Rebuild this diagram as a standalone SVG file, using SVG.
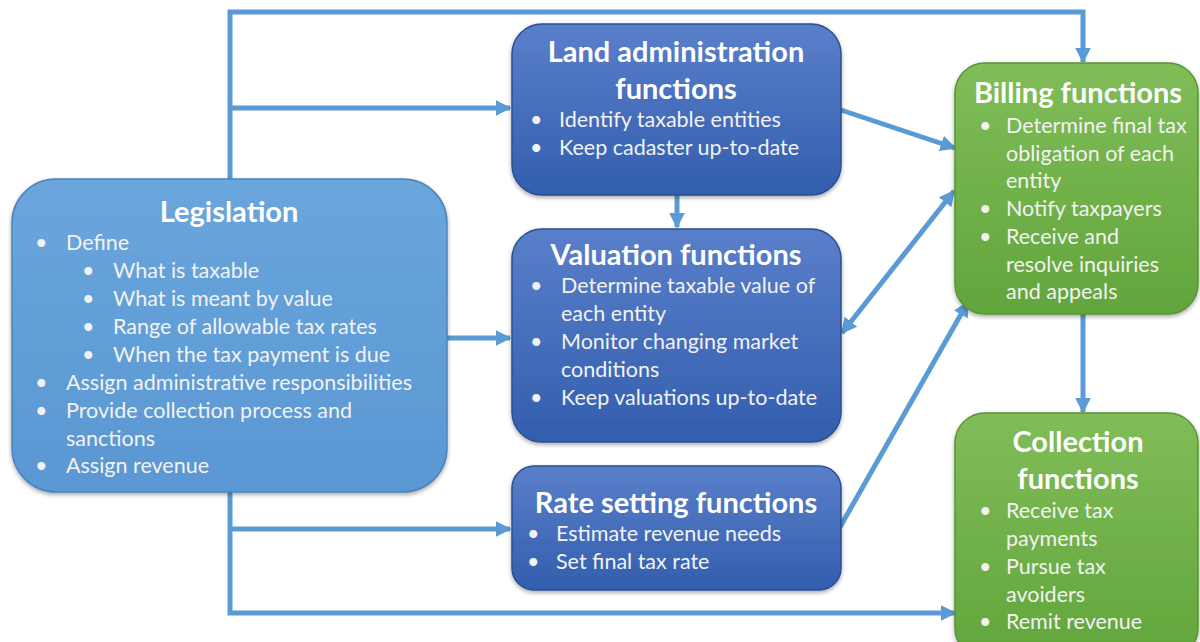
<svg xmlns="http://www.w3.org/2000/svg" width="1200" height="642" viewBox="0 0 1200 642">
<defs>
<linearGradient id="gLeg" x1="0" y1="0" x2="0" y2="1"><stop offset="0" stop-color="#6aa6dc"/><stop offset="1" stop-color="#5a97d3"/></linearGradient>
<linearGradient id="gBlue" x1="0" y1="0" x2="0" y2="1"><stop offset="0" stop-color="#5a7fca"/><stop offset="1" stop-color="#325eae"/></linearGradient>
<linearGradient id="gGreen" x1="0" y1="0" x2="0" y2="1"><stop offset="0" stop-color="#80bd58"/><stop offset="1" stop-color="#62a53c"/></linearGradient>
<filter id="sh" x="-10%" y="-10%" width="120%" height="125%"><feDropShadow dx="0" dy="2" stdDeviation="2" flood-color="#000" flood-opacity="0.35"/></filter>
<marker id="ah" viewBox="0 0 10 10" refX="9" refY="5" markerWidth="16" markerHeight="16" markerUnits="userSpaceOnUse" orient="auto-start-reverse"><path d="M0,0 L10,5 L0,10 z" fill="#5b9bd5"/></marker>
</defs>
<style>
.leg{fill:url(#gLeg);stroke:#4c84bd;stroke-width:1.5;filter:url(#sh)}
.blue{fill:url(#gBlue);stroke:#2b4f90;stroke-width:1.5;filter:url(#sh)}
.green{fill:url(#gGreen);stroke:#5a9434;stroke-width:1.5;filter:url(#sh)}
.t{font-family:Lato,"Liberation Sans",sans-serif;font-weight:bold;font-size:29px;fill:#fff;text-anchor:middle}
.b{font-family:Lato,"Liberation Sans",sans-serif;font-size:21.5px;fill:#f2f2f2}
.c{fill:none;stroke:#5b9bd5;stroke-width:5}
</style>
<g id="connectors">
<path class="c" d="M230,180 V12 H1083 V62" marker-end="url(#ah)"/>
<path class="c" d="M230,108 H510" marker-end="url(#ah)"/>
<path class="c" d="M677,195 V227" marker-end="url(#ah)"/>
<path class="c" d="M447,338 H510" marker-end="url(#ah)"/>
<path class="c" d="M230,492 V613 H955" marker-end="url(#ah)"/>
<path class="c" d="M230,529 H510" marker-end="url(#ah)"/>
<path class="c" d="M841,110 L955,148" marker-end="url(#ah)"/>
<path class="c" d="M842,333 L954,191" marker-start="url(#ah)" marker-end="url(#ah)"/>
<path class="c" d="M840,527 L968,302" marker-end="url(#ah)"/>
<path class="c" d="M1083,314 V412" marker-end="url(#ah)"/>
</g>
<g id="legislation">
<rect class="leg" x="12" y="179" width="435" height="313" rx="44"/>
<text class="t" x="229" y="222">Legislation</text>
<g class="b">
<text x="35" y="250">•</text><text x="66" y="250">Define</text>
<text x="82" y="278">•</text><text x="113" y="278">What is taxable</text>
<text x="82" y="306">•</text><text x="113" y="306">What is meant by value</text>
<text x="82" y="334">•</text><text x="113" y="334">Range of allowable tax rates</text>
<text x="82" y="362">•</text><text x="113" y="362">When the tax payment is due</text>
<text x="35" y="390">•</text><text x="66" y="390">Assign administrative responsibilities</text>
<text x="35" y="418">•</text><text x="66" y="418">Provide collection process and</text>
<text x="66" y="446">sanctions</text>
<text x="35" y="473">•</text><text x="66" y="473">Assign revenue</text>
</g>
</g>
<g id="land">
<rect class="blue" x="512" y="24" width="329" height="171" rx="30"/>
<text class="t" x="676" y="62">Land administration</text>
<text class="t" x="676" y="99">functions</text>
<g class="b">
<text x="530" y="127">•</text><text x="559" y="127">Identify taxable entities</text>
<text x="530" y="155">•</text><text x="559" y="155">Keep cadaster up-to-date</text>
</g>
</g>
<g id="valuation">
<rect class="blue" x="512" y="229" width="329" height="213" rx="30"/>
<text class="t" x="676" y="265">Valuation functions</text>
<g class="b">
<text x="530" y="293">•</text><text x="561" y="293">Determine taxable value of</text>
<text x="561" y="321">each entity</text>
<text x="530" y="349">•</text><text x="561" y="349">Monitor changing market</text>
<text x="561" y="377">conditions</text>
<text x="530" y="405">•</text><text x="561" y="405">Keep valuations up-to-date</text>
</g>
</g>
<g id="rate">
<rect class="blue" x="512" y="466" width="329" height="124" rx="22"/>
<text class="t" x="676" y="513">Rate setting functions</text>
<g class="b">
<text x="527" y="541">•</text><text x="556" y="541">Estimate revenue needs</text>
<text x="527" y="569">•</text><text x="556" y="569">Set final tax rate</text>
</g>
</g>
<g id="billing">
<rect class="green" x="955" y="63" width="243" height="251" rx="30"/>
<text class="t" x="1078" y="103">Billing functions</text>
<g class="b">
<text x="979" y="133">•</text><text x="1006" y="133">Determine final tax</text>
<text x="1006" y="161">obligation of each</text>
<text x="1006" y="188">entity</text>
<text x="979" y="216">•</text><text x="1006" y="216">Notify taxpayers</text>
<text x="979" y="244">•</text><text x="1006" y="244">Receive and</text>
<text x="1006" y="272">resolve inquiries</text>
<text x="1006" y="299">and appeals</text>
</g>
</g>
<g id="collection">
<rect class="green" x="955" y="413" width="243" height="245" rx="30"/>
<text class="t" x="1078" y="452">Collection</text>
<text class="t" x="1078" y="489">functions</text>
<g class="b">
<text x="979" y="518">•</text><text x="1006" y="518">Receive tax</text>
<text x="1006" y="546">payments</text>
<text x="979" y="574">•</text><text x="1006" y="574">Pursue tax</text>
<text x="1006" y="602">avoiders</text>
<text x="979" y="629">•</text><text x="1006" y="629">Remit revenue</text>
</g>
</g>
</svg>
